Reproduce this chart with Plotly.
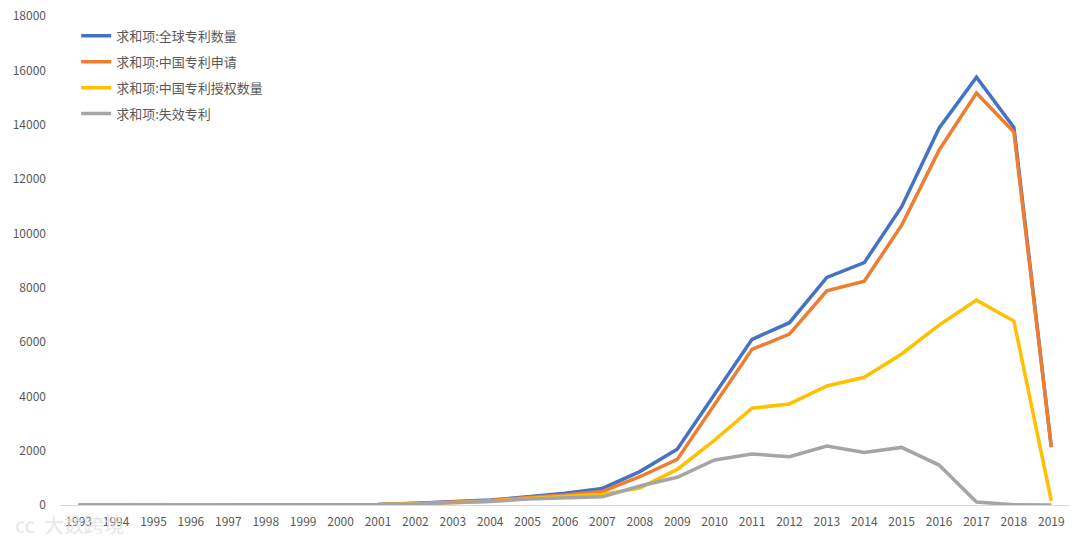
import plotly.graph_objects as go

years = [str(y) for y in range(1993, 2020)]

global_patents = [0, 0, 0, 0, 0, 0, 0, 5, 15, 60, 120, 180, 300, 430, 610, 1230, 2050, 4050, 6100, 6710, 8380, 8920, 10980, 13870, 15750, 13900, 2130]
china_apply = [0, 0, 0, 0, 0, 0, 0, 5, 15, 55, 110, 170, 280, 370, 500, 1040, 1680, 3680, 5730, 6290, 7880, 8240, 10300, 13060, 15160, 13730, 2130]
china_granted = [0, 0, 0, 0, 0, 0, 0, 3, 10, 40, 90, 140, 240, 320, 400, 620, 1310, 2390, 3560, 3720, 4380, 4700, 5560, 6620, 7540, 6770, 150]
invalid = [0, 0, 0, 0, 0, 0, 0, 3, 10, 40, 90, 130, 220, 260, 300, 700, 1020, 1660, 1880, 1780, 2170, 1930, 2120, 1470, 110, 10, 0]

series_names = ["求和项:全球专利数量", "求和项:中国专利申请", "求和项:中国专利授权数量", "求和项:失效专利"]
series_values = [global_patents, china_apply, china_granted, invalid]
colors = ["#4472C4", "#ED7D31", "#FFC000", "#A5A5A5"]
y_ticks = list(range(0, 18001, 2000))

fig = go.Figure()
for i, (name, vals, col) in enumerate(zip(series_names, series_values, colors)):
    fig.add_trace(go.Scatter(
        x=years, y=vals, name=name, mode="lines",
        line=dict(color=col, width=3.5),
        legendgroup=str(i),
    ))

fig.update_layout(
    width=1064, height=526,
    margin=dict(l=52, r=2, t=8, b=29),
    plot_bgcolor="white", paper_bgcolor="white",
    font=dict(family="Noto Sans CJK SC, Noto Sans, sans-serif", color="#595959", size=12),
    showlegend=True,
    legend=dict(
        x=0.016, y=0.99, xanchor="left", yanchor="top",
        bgcolor="rgba(0,0,0,0)", font=dict(size=13, color="#595959"),
        tracegroupgap=6, itemwidth=30,
    ),
    xaxis=dict(
        type="category", range=[-0.5, len(years) - 0.5],
        showgrid=False, showline=True, linecolor="#D9D9D9", linewidth=1,
        ticks="", tickfont=dict(size=12, color="#595959"), zeroline=False,
        ticklabelstandoff=6, automargin=False,
    ),
    yaxis=dict(
        range=[0, 18000], tickvals=y_ticks, tickformat="d", showgrid=False,
        showline=False, zeroline=False, ticks="", tickfont=dict(size=12, color="#595959"),
        ticklabelstandoff=13, ticklabeloverflow="allow", automargin=False,
    ),
)

fig.add_annotation(
    xref="paper", yref="paper", x=-0.047, y=-0.04, xanchor="left", yanchor="middle",
    text="㏄  大数跨境", showarrow=False,
    font=dict(size=20, color="rgba(225,225,225,0.8)"),
)

fig.write_html("out.html")
